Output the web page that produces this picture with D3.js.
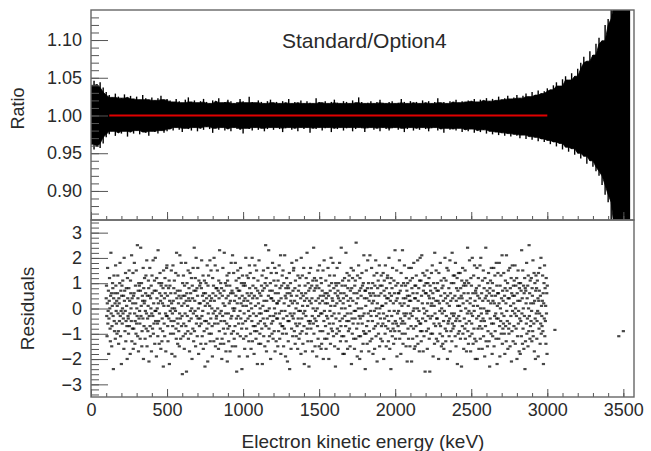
<!DOCTYPE html>
<meta charset="utf-8">
<script src="https://d3js.org/d3.v7.min.js"></script>
<style>
  body { margin: 0; background: #fff; }
  text { font-family: "Liberation Sans", Arial, sans-serif; fill: #2a2a2a; }
</style>
<div id="chart"></div>
<script>
// ratio Standard/Option4, upper and lower edge of the error bars, 20 keV bins from 0 keV
var ratioBinWidth = 20;
var ratioHigh = [
  1.040,1.046,1.041,1.044,1.037,1.031,1.027,1.024,1.029,1.025,
  1.023,1.028,1.024,1.026,1.022,1.025,1.021,1.027,1.023,1.021,
  1.024,1.020,1.023,1.026,1.021,1.022,1.020,1.018,1.022,1.019,
  1.017,1.021,1.024,1.018,1.020,1.017,1.019,1.022,1.018,1.016,
  1.020,1.019,1.023,1.017,1.018,1.021,1.019,1.016,1.018,1.022,
  1.019,1.017,1.025,1.018,1.017,1.020,1.018,1.016,1.019,1.021,
  1.017,1.018,1.016,1.019,1.017,1.022,1.016,1.018,1.017,1.020,
  1.016,1.019,1.017,1.016,1.023,1.018,1.017,1.019,1.016,1.018,
  1.021,1.017,1.016,1.019,1.018,1.016,1.020,1.017,1.024,1.018,
  1.016,1.017,1.019,1.016,1.018,1.021,1.017,1.016,1.018,1.019,
  1.016,1.017,1.022,1.018,1.016,1.019,1.017,1.018,1.016,1.020,
  1.017,1.019,1.016,1.018,1.023,1.017,1.018,1.016,1.019,1.018,
  1.021,1.017,1.019,1.018,1.020,1.019,1.022,1.018,1.021,1.020,
  1.023,1.019,1.022,1.020,1.025,1.021,1.023,1.026,1.022,1.024,
  1.027,1.023,1.026,1.029,1.025,1.031,1.027,1.033,1.029,1.032,
  1.036,1.034,1.040,1.044,1.039,1.048,1.052,1.047,1.056,1.052,
  1.062,1.070,1.078,1.072,1.085,1.080,1.095,1.103,1.099,1.120,
  1.128,1.150,1.150,1.150,1.150,1.150,1.150,1.150
];
var ratioLow = [
  0.962,0.955,0.959,0.957,0.963,0.971,0.975,0.979,0.973,0.977,
  0.976,0.979,0.972,0.978,0.976,0.980,0.975,0.978,0.977,0.973,
  0.979,0.978,0.976,0.980,0.977,0.979,0.982,0.980,0.984,0.981,
  0.978,0.983,0.982,0.980,0.984,0.979,0.983,0.981,0.985,0.982,
  0.977,0.983,0.981,0.984,0.980,0.982,0.979,0.984,0.982,0.981,
  0.976,0.983,0.982,0.980,0.984,0.981,0.983,0.979,0.982,0.984,
  0.981,0.984,0.982,0.978,0.983,0.984,0.981,0.983,0.979,0.984,
  0.982,0.984,0.977,0.983,0.982,0.984,0.980,0.983,0.984,0.978,
  0.983,0.982,0.984,0.980,0.983,0.984,0.979,0.982,0.984,0.983,
  0.978,0.983,0.984,0.981,0.983,0.979,0.984,0.982,0.980,0.983,
  0.984,0.981,0.983,0.978,0.982,0.984,0.980,0.983,0.981,0.984,
  0.982,0.979,0.983,0.984,0.980,0.982,0.977,0.983,0.981,0.982,
  0.980,0.983,0.978,0.981,0.979,0.982,0.977,0.980,0.978,0.981,
  0.976,0.979,0.975,0.978,0.974,0.977,0.973,0.976,0.972,0.975,
  0.973,0.970,0.974,0.969,0.972,0.968,0.971,0.966,0.969,0.965,
  0.967,0.962,0.965,0.959,0.963,0.955,0.958,0.952,0.956,0.948,
  0.950,0.943,0.946,0.936,0.940,0.932,0.926,0.920,0.908,0.895,
  0.885,0.850,0.850,0.850,0.850,0.850,0.850,0.850
];

// constant fit (red line)
var fitRange = [120, 3000];
var fitValue = 1.0;

// residuals, evenly spread over the fit range
var residualRange = [100, 3000];
var residuals = [
  0.4,0.9,-0.3,-1.1,0.2,1.6,-0.6,-0.1,0.7,-1.8,-0.4,0.3,1.2,0.0,-0.8,-1.3,0.5,2.2,-0.2,0.6,
  -1.5,-0.7,0.1,1.0,0.8,-0.3,-2.4,0.4,1.3,-0.5,-0.9,0.6,0.2,-1.2,1.7,0.9,-0.1,-0.6,0.3,-1.0,
  0.1,0.6,1.3,-0.2,-0.9,-1.4,0.4,0.2,-0.5,1.0,1.8,-0.3,-1.1,0.7,-0.1,-2.2,0.5,0.9,-0.6,0.0,
  1.1,-0.2,-0.4,0.5,-1.6,2.0,0.3,0.7,-0.9,-0.1,1.4,-1.3,-0.5,0.8,0.1,-0.7,-2.0,1.2,0.4,-0.3,
  -0.4,-1.0,0.8,1.5,-0.7,0.3,-0.2,-1.8,1.1,0.6,0.0,-0.5,2.1,-1.3,0.4,-0.8,0.2,1.4,-1.6,0.5,
  -0.8,0.6,1.8,-0.2,-1.4,-0.5,0.9,0.2,-1.0,1.5,-0.6,0.0,-0.3,2.5,-1.1,0.4,0.7,-1.7,1.0,-0.4,
  0.9,-0.1,-0.6,-1.2,0.7,2.4,-0.3,0.1,1.0,-1.5,-0.9,0.5,0.3,-0.4,1.6,-2.0,0.8,-0.7,0.2,1.2,
  0.3,-1.2,-0.1,0.6,1.3,-0.8,-0.2,1.9,-1.5,0.5,-0.4,-0.9,0.1,1.1,0.8,-2.1,-0.3,0.5,1.6,-0.7,
  -1.1,0.4,0.0,0.9,-1.7,-0.2,1.3,0.6,-0.8,-0.3,1.9,-1.0,0.2,-0.6,0.7,1.1,-1.4,-0.1,2.0,-0.5,
  -0.1,0.7,-1.9,1.2,0.4,0.0,-0.6,-1.1,2.3,0.2,-0.5,1.0,-1.4,-0.2,0.6,1.4,-0.8,0.3,-1.6,0.9,
  0.5,1.0,-1.3,-0.4,0.2,-0.9,0.8,-2.3,1.5,0.1,-0.6,0.4,-1.1,1.2,0.6,-0.2,-1.7,0.9,-0.3,1.6,
  1.7,-0.3,0.5,-0.7,-1.3,0.1,0.8,-0.4,1.1,-2.2,0.3,0.9,-0.1,-1.0,0.6,-0.5,1.5,0.2,-1.8,0.0,
  -0.2,-0.7,1.7,0.3,-1.0,0.8,-0.5,1.1,0.0,-1.9,0.6,-0.1,1.4,-0.8,-1.2,2.2,0.4,-0.4,0.7,-1.4,
  -0.6,1.3,0.2,-0.9,0.5,-1.5,-0.2,2.1,0.7,-0.4,-1.2,0.4,1.8,-0.7,0.1,-0.3,-2.6,1.0,0.5,-1.1,
  1.3,-0.6,0.2,-1.6,0.9,0.5,-0.2,-1.0,1.8,-0.7,0.3,-2.5,0.6,1.0,-0.3,0.1,-0.9,1.5,-1.2,0.4,
  0.8,-0.5,-1.7,0.3,1.4,-0.1,0.6,-1.0,-0.4,1.2,0.0,-2.0,0.9,0.4,-0.8,1.6,-0.2,-1.3,0.7,2.4,
  -0.9,0.3,-0.1,1.2,-1.5,0.7,2.0,-0.6,-0.3,0.8,-1.1,0.5,1.6,-0.4,0.0,-1.8,1.1,0.2,-0.7,0.9,
  -0.4,0.2,1.0,-1.4,-0.6,0.8,1.9,-0.3,-1.1,0.5,-0.1,1.3,-1.6,0.6,0.3,-0.9,1.1,-0.5,-2.3,0.1,
  0.6,-1.4,1.0,-0.5,0.4,-0.8,1.7,0.2,-2.1,0.9,-0.2,1.3,-0.6,-1.0,0.5,0.1,1.9,-1.3,0.3,-0.4,
  1.5,-1.0,0.4,0.0,-0.7,-1.9,1.2,0.6,-0.2,0.9,-1.3,2.0,0.3,-0.6,-0.1,1.7,-1.5,0.5,0.8,-0.4,
  -0.3,0.8,-1.2,1.5,0.0,-0.6,0.7,-1.6,1.1,0.4,-0.9,2.3,-0.2,0.6,-1.4,1.0,-0.5,-0.1,0.8,-2.0,
  -1.2,0.5,-0.3,1.6,0.2,-0.8,-1.4,0.7,2.2,-0.5,0.1,-1.0,1.0,-0.2,-1.7,0.4,0.9,-0.6,1.3,-2.1,
  1.1,-0.8,0.5,-0.2,-1.3,1.4,0.2,-0.7,0.9,-1.7,0.3,0.6,-0.4,1.8,-1.0,-0.3,0.7,-1.5,2.1,0.0,
  0.6,-0.9,1.4,-0.1,-1.2,0.3,0.0,-0.7,1.8,-1.5,0.5,1.1,-0.4,-2.5,0.8,0.2,-1.0,1.5,-0.3,0.7,
  -0.6,1.2,-1.9,0.4,0.7,-0.1,-1.1,1.6,-0.4,0.2,1.0,-0.8,-2.4,0.5,1.3,-0.6,0.1,0.9,-1.2,0.3,
  -0.2,1.0,-1.6,0.4,0.9,-0.5,2.0,-1.1,0.1,-0.8,1.3,0.6,-1.9,0.3,-0.4,1.2,-0.1,-1.3,0.5,1.7,
  0.8,-0.3,1.4,-1.0,0.2,-1.6,0.6,0.0,-0.5,2.0,-1.3,0.4,0.9,-0.7,-0.2,1.2,-1.8,0.5,-0.9,1.7,
  -0.7,0.1,0.8,-1.2,-0.3,1.5,-0.9,0.4,-2.2,0.7,1.1,-0.6,0.2,-1.4,1.9,-0.2,0.6,-1.0,0.0,-0.5,
  -1.4,0.5,-0.2,0.9,-0.8,1.3,-2.2,0.7,0.1,-0.4,1.5,-1.1,0.3,0.8,-0.6,-1.5,1.0,-0.1,2.5,-0.7,
  1.2,-1.7,0.3,0.9,-0.4,-0.1,1.6,-1.3,0.5,2.3,-0.8,0.0,-1.1,0.7,-0.3,1.0,-2.0,0.4,1.4,-0.6,
  0.4,-1.0,0.7,1.8,-0.5,-1.2,0.3,-0.3,1.1,-0.9,0.0,1.6,-1.7,0.6,-0.2,0.9,-1.3,1.4,-0.4,0.2,
  0.2,-0.4,-1.5,1.1,0.6,-0.9,0.3,1.7,-0.2,-1.2,0.8,-0.6,2.1,-1.8,0.4,-0.1,0.9,-0.7,1.3,-1.0,
  -0.7,1.5,-0.4,-1.5,1.0,0.2,-0.8,2.1,-0.1,0.5,-1.9,0.8,0.4,-1.0,1.2,-0.3,0.6,-2.1,0.9,-0.5,
  -1.3,0.8,0.1,-0.5,1.4,-2.4,0.6,-0.2,1.0,0.3,-1.6,0.5,-0.8,1.8,-0.3,0.2,-1.1,0.7,-0.4,1.5,
  1.6,-0.2,-0.9,0.3,0.8,-1.4,1.1,-0.6,0.0,-1.1,1.9,0.5,-0.7,0.2,-1.6,1.3,-0.4,0.7,-0.1,-1.2,
  0.9,-0.6,1.2,-1.0,-0.1,0.4,-1.8,2.0,0.6,-0.4,-0.9,1.3,0.1,-1.4,0.5,-0.2,1.6,-0.7,-2.2,0.3,
  -0.1,0.9,-1.7,0.6,-0.3,1.2,-1.0,0.4,2.2,-0.8,0.1,-1.3,1.0,-0.5,0.7,-2.3,1.4,0.3,-0.6,0.8,
  -0.5,1.6,-0.8,0.2,-1.3,0.9,0.4,-0.3,-1.7,1.1,0.0,-0.6,2.4,-1.0,0.7,1.2,-0.4,-1.5,0.8,-0.1,
  0.3,-0.5,1.1,-1.9,0.9,0.0,-0.7,1.5,-1.2,0.4,-0.3,0.8,-1.5,1.7,0.2,-0.9,0.5,-0.2,1.2,-1.6,
  1.0,-1.4,-0.2,0.7,0.3,-0.9,1.5,-2.0,0.5,-0.5,1.9,-0.1,-1.2,0.6,0.2,-0.7,1.1,-1.6,0.4,-0.3,
  -1.2,0.6,0.2,-0.4,1.6,-1.0,0.5,-2.0,0.9,-0.6,1.3,-0.1,0.7,-1.4,0.1,2.0,-0.8,1.0,-0.3,0.4,
  -0.9,0.3,1.8,-0.6,-1.1,0.8,-0.2,1.3,-1.5,0.1,0.6,-2.3,1.0,-0.4,0.9,-1.0,0.2,1.6,-0.8,0.5,
  0.7,-1.6,0.4,1.0,-0.2,-0.9,1.8,-0.5,0.3,-1.3,0.6,-0.7,2.4,0.0,-1.1,0.9,-0.4,1.1,-1.8,0.2,
  0.4,-1.1,0.6,-1.8,1.2,-0.3,0.0,0.9,-0.7,2.2,-1.3,0.5,-0.5,1.4,-0.2,-1.6,0.8,0.3,-0.9,1.1,
  -0.5,1.3,-0.8,0.1,-1.5,0.7,0.4,-0.2,1.6,-2.2,0.8,-0.4,-1.0,1.2,0.3,-0.6,1.5,-1.2,0.6,-0.1,
  -1.6,0.9,-0.4,1.1,-0.1,-1.2,2.6,0.2,-0.8,0.6,-1.9,1.3,0.4,-0.6,0.0,1.7,-1.1,-0.3,0.7,-2.0,
  1.2,-0.4,-1.1,0.8,0.5,-1.7,0.0,1.4,-0.6,0.9,-0.3,-1.4,1.0,-0.9,2.1,-0.2,0.4,-1.0,0.7,-2.4,
  0.7,0.1,-1.0,1.5,-0.7,0.4,-1.4,0.8,1.9,-0.5,-0.2,1.0,-1.7,0.3,-0.9,0.6,2.1,-1.3,-0.1,0.5,
  -0.3,0.8,1.6,-1.2,0.2,-0.5,1.0,-1.8,0.6,0.3,-0.8,1.3,-0.1,-1.6,0.9,0.5,-0.7,1.9,-1.1,0.0,
  -0.3,1.4,-2.1,0.2,0.8,-0.6,1.1,-1.0,0.5,-0.2,1.7,-1.5,0.0,0.9,-0.4,-1.2,0.6,1.3,-0.7,0.1,
  0.9,-1.3,0.1,-0.6,1.4,-0.2,-2.0,0.7,1.1,-0.4,0.5,-1.0,1.7,-0.7,0.2,-1.5,0.8,0.4,-0.3,1.2,
  1.3,-0.8,0.4,-1.3,-0.5,2.0,-0.1,0.6,-1.6,1.0,0.3,-0.9,-2.4,1.2,0.5,-0.3,0.8,-1.1,1.6,-0.6,
  -0.8,0.2,-1.4,1.1,-0.1,0.6,-0.9,2.3,-0.5,-1.2,0.9,0.3,-0.6,1.5,-1.9,0.4,-0.2,1.0,-0.7,0.6,
  -0.1,0.6,-0.9,1.9,-1.2,0.2,0.7,-0.4,-1.8,1.4,-0.6,0.9,0.1,-1.0,2.3,-0.5,-1.4,0.4,1.0,-0.2,
  0.2,1.7,-0.6,-0.3,-1.0,0.9,0.4,-1.5,1.2,-0.2,0.7,-2.1,0.5,1.0,-0.8,0.1,-1.2,1.6,-0.4,0.3,
  0.5,-1.5,1.1,-0.2,0.3,-0.7,1.6,-2.1,0.8,-0.3,1.2,-1.2,0.6,-0.1,-0.8,1.8,0.0,-1.6,0.4,0.9,
  -1.5,0.4,0.9,-0.7,1.3,-0.4,-1.1,0.6,0.0,1.9,-1.4,0.3,-0.5,0.8,-0.1,-1.7,1.1,-0.6,2.0,-0.9,
  -0.6,1.1,-1.3,0.5,2.1,-0.9,0.2,-0.4,1.4,-1.7,0.7,0.0,-1.1,0.9,-0.2,1.3,-2.5,0.6,-0.5,1.0,
  0.6,-0.9,-0.1,1.5,-1.6,0.2,1.0,-0.3,-0.8,0.5,1.2,-1.2,0.4,-2.5,0.9,-0.4,0.7,-1.0,0.1,1.4,
  0.2,-0.3,1.7,-1.0,0.6,-1.9,0.4,1.0,-0.6,0.1,-1.4,2.2,-0.2,0.8,-0.7,0.3,1.5,-1.2,-0.4,0.7,
  -0.4,1.0,-1.3,0.3,0.7,-2.0,1.4,-0.6,0.2,-0.1,-1.0,1.8,-0.7,0.5,1.1,-1.5,0.0,0.8,-0.2,-1.1,
  -1.4,0.9,0.3,-0.5,-1.6,1.2,-0.1,0.6,2.0,-0.8,0.4,-1.3,1.1,-0.3,-0.9,1.6,0.2,-2.0,0.5,-0.6,
  1.5,-0.5,0.8,-1.1,0.1,-0.4,1.9,-1.7,0.6,0.3,-0.9,1.0,-0.2,-1.3,2.2,-0.6,0.4,-0.8,1.3,-0.3,
  1.0,-0.7,-0.2,1.3,0.5,-1.1,1.8,-0.5,-1.5,0.3,0.8,-0.4,1.2,-2.2,0.1,0.7,-1.0,1.4,-0.3,0.4,
  -0.9,0.1,-0.5,1.4,-1.2,0.8,-0.1,0.5,-2.3,1.1,0.4,-0.7,1.6,-1.0,0.2,0.9,-1.6,0.6,-0.4,1.0,
  -0.8,1.5,-1.2,0.0,0.9,-0.6,-1.7,1.1,0.3,-0.2,2.4,-0.9,0.6,-1.4,1.0,-0.1,-0.5,1.9,-1.1,0.2,
  0.4,-1.7,1.2,-0.2,0.9,-0.6,-1.0,2.0,-0.3,0.6,-1.4,0.1,1.3,-0.8,-0.1,1.7,-1.2,0.3,-2.0,0.7,
  0.6,-1.3,0.8,-0.4,1.6,-2.0,0.1,0.5,-0.8,1.2,-0.3,-1.6,0.9,0.4,-0.7,1.7,-1.2,0.0,2.0,-0.5,
  -0.2,0.6,-0.8,-1.6,1.1,0.3,-0.4,1.5,-1.1,0.0,0.8,-0.5,-1.9,1.2,0.4,-0.7,2.4,-1.3,0.5,-0.1,
  -0.2,0.7,-1.5,1.0,-0.9,0.3,1.4,-0.1,-1.3,0.6,-2.3,0.8,-0.4,1.1,0.2,-1.0,1.6,-0.6,0.5,-1.8,
  1.0,-1.1,0.3,0.7,-0.6,1.6,-1.5,0.2,-0.3,1.3,-0.9,0.5,-0.2,-1.2,1.8,-0.4,0.9,-2.2,0.1,0.6,
  1.4,-0.4,0.6,-1.2,0.2,1.8,-0.7,-1.9,0.9,0.0,-0.5,1.3,-1.0,0.4,-0.2,2.1,-1.4,0.7,-0.8,0.3,
  -0.6,1.4,-0.3,-1.0,0.5,-1.8,0.8,1.1,-0.7,0.2,-1.3,2.1,-0.1,0.7,-0.5,1.0,-1.6,0.4,1.5,-0.8,
  -1.0,0.4,-0.6,1.6,-1.5,0.8,0.1,-0.3,1.2,-2.1,0.6,-0.9,1.7,-0.1,0.5,-1.3,0.9,0.2,-0.7,1.1,
  0.5,-0.2,1.7,-1.4,0.0,0.9,-0.8,-0.3,1.2,-2.0,0.6,-1.1,0.3,1.5,-0.6,-0.1,1.0,-1.7,0.8,-0.4,
  0.3,-1.8,1.0,-0.5,0.7,-1.1,2.3,-0.2,0.4,-1.4,1.5,-0.8,0.0,0.9,-1.6,0.6,-0.3,1.2,-2.4,0.8,
  -1.3,0.7,0.2,-0.6,1.8,-1.0,0.4,-0.4,0.9,-1.5,1.3,0.0,-0.9,2.5,-0.3,0.6,-1.2,1.1,-0.7,0.2,
  -0.5,1.2,-0.1,-1.3,0.8,0.5,-0.9,1.9,-1.1,0.2,-0.6,1.4,-1.7,0.3,1.0,-0.4,-2.0,0.7,1.3,-0.2,
  0.8,-1.2,-0.5,1.1,-0.1,0.4,-1.9,1.4,0.3,-0.8,0.7,-0.2,1.6,-1.4,0.5,-0.6,2.0,-1.0,0.1,-0.3,
  -0.7,0.3,1.3,-0.9,0.6,-2.2,0.2,1.0,-0.4,1.7,-1.1,0.8,-0.5,0.1,-1.4,1.2,-0.2,0.6,-1.8,0.9
];
// a few residual points beyond the fit range
var tailEnergy = [3050, 3470, 3500];
var tailResidual = [-0.85, -1.1, -0.9];

var xMajor = [0, 500, 1000, 1500, 2000, 2500, 3000, 3500];
var ratioMajor = [0.90, 0.95, 1.00, 1.05, 1.10];
var residualMajor = [-3, -2, -1, 0, 1, 2, 3];

var width = 651, height = 451;
var frameL = 91, frameR = 634, frameT = 10, frameM = 220, frameB = 397;

var svg = d3.select("#chart").append("svg")
    .attr("width", width)
    .attr("height", height);

var x = d3.scaleLinear().domain([0, 3570]).range([frameL, frameR]);
var yRatio = d3.scaleLinear().domain([0.8615, 1.1398]).range([frameM, frameT]);
var yRes = d3.scaleLinear().domain([-3.5, 3.5]).range([frameB, frameM]);

svg.append("defs").append("clipPath").attr("id", "clipTop")
  .append("rect").attr("x", frameL).attr("y", frameT)
    .attr("width", frameR - frameL).attr("height", frameM - frameT);

// ratio error bars: solid core plus one bar per bin
var ratioEnergy = ratioHigh.map((d, i) => i * ratioBinWidth);
var n = ratioHigh.length;
var coreHigh = ratioHigh.map((d, i) => d3.min(ratioHigh.slice(Math.max(0, i - 1), Math.min(n, i + 2))));
var coreLow = ratioLow.map((d, i) => d3.max(ratioLow.slice(Math.max(0, i - 1), Math.min(n, i + 2))));

var band = d3.area()
    .x((d, i) => x(ratioEnergy[i]))
    .y0((d, i) => yRatio(coreLow[i]))
    .y1(d => yRatio(d));

var gRatio = svg.append("g").attr("clip-path", "url(#clipTop)");
gRatio.append("path")
    .datum(coreHigh)
    .attr("d", band)
    .attr("fill", "#000")
    .attr("stroke", "#000")
    .attr("stroke-width", 0.8);

gRatio.selectAll("line")
  .data(ratioHigh)
  .enter().append("line")
    .attr("x1", (d, i) => x(ratioEnergy[i]))
    .attr("x2", (d, i) => x(ratioEnergy[i]))
    .attr("y1", d => yRatio(d))
    .attr("y2", (d, i) => yRatio(ratioLow[i]))
    .attr("stroke", "#000")
    .attr("stroke-width", 1.4);

svg.append("line")
    .attr("x1", x(fitRange[0])).attr("x2", x(fitRange[1]))
    .attr("y1", yRatio(fitValue)).attr("y2", yRatio(fitValue))
    .attr("stroke", "#e00000")
    .attr("stroke-width", 1.8);

// residual points
var resStep = (residualRange[1] - residualRange[0]) / (residuals.length - 1);
var resPoints = residuals.map((r, i) => [residualRange[0] + i * resStep, r])
    .concat(tailEnergy.map((e, i) => [e, tailResidual[i]]));

svg.append("g")
  .selectAll("rect")
  .data(resPoints)
  .enter().append("rect")
    .attr("x", d => x(d[0]) - 1.6)
    .attr("y", d => yRes(d[1]) - 1.2)
    .attr("width", 3.2)
    .attr("height", 2.2)
    .attr("fill", "#000")
    .attr("opacity", 0.72);

// axes, ROOT style: ticks inside the frame
function minors(lo, hi, step) {
  return d3.range(Math.round(lo / step), Math.round(hi / step) + 1).map(k => k * step);
}

function styleAxis(g) {
  g.select(".domain").remove();
  g.selectAll("line").attr("stroke", "#555").attr("stroke-width", 1);
  g.selectAll("text").attr("font-size", 18).attr("fill", "#2a2a2a");
}

// top panel left axis
svg.append("g").attr("transform", "translate(" + frameL + ",0)")
  .call(d3.axisLeft(yRatio).tickValues(minors(0.87, 1.13, 0.01)).tickSize(-8).tickFormat(""))
  .call(styleAxis);
svg.append("g").attr("transform", "translate(" + frameL + ",0)")
  .call(d3.axisLeft(yRatio).tickValues(ratioMajor).tickSizeInner(-17).tickSizeOuter(0)
    .tickPadding(9).tickFormat(d3.format(".2f")))
  .call(styleAxis);

// bottom panel left axis
svg.append("g").attr("transform", "translate(" + frameL + ",0)")
  .call(d3.axisLeft(yRes).tickValues(minors(-3.4, 3.4, 0.2)).tickSize(-8).tickFormat(""))
  .call(styleAxis);
svg.append("g").attr("transform", "translate(" + frameL + ",0)")
  .call(d3.axisLeft(yRes).tickValues(residualMajor).tickSizeInner(-17).tickSizeOuter(0)
    .tickPadding(9).tickFormat(d3.format("d")))
  .call(styleAxis);

// x axes (top panel without labels)
[frameM, frameB].forEach(function (yPos, k) {
  svg.append("g").attr("transform", "translate(0," + yPos + ")")
    .call(d3.axisBottom(x).tickValues(minors(0, 3500, 100)).tickSize(-4).tickFormat(""))
    .call(styleAxis);
  svg.append("g").attr("transform", "translate(0," + yPos + ")")
    .call(d3.axisBottom(x).tickValues(xMajor).tickSizeInner(-8).tickSizeOuter(0)
      .tickPadding(6).tickFormat(k ? d3.format("d") : ""))
    .call(styleAxis);
});

// frames
[[frameT, frameM], [frameM, frameB]].forEach(function (p) {
  svg.append("rect")
    .attr("x", frameL).attr("y", p[0])
    .attr("width", frameR - frameL).attr("height", p[1] - p[0])
    .attr("fill", "none")
    .attr("stroke", "#666")
    .attr("stroke-width", 1.4);
});

svg.append("text")
    .attr("x", 282).attr("y", 48)
    .attr("font-size", 21)
    .text("Standard/Option4");

svg.append("text")
    .attr("transform", "translate(24," + (yRatio(1.0) - 7) + ") rotate(-90)")
    .attr("text-anchor", "middle")
    .attr("font-size", 18)
    .text("Ratio");

svg.append("text")
    .attr("transform", "translate(34," + yRes(0) + ") rotate(-90)")
    .attr("text-anchor", "middle")
    .attr("font-size", 19)
    .text("Residuals");

svg.append("text")
    .attr("x", 363).attr("y", 448)
    .attr("text-anchor", "middle")
    .attr("font-size", 19)
    .text("Electron kinetic energy (keV)");
</script>
